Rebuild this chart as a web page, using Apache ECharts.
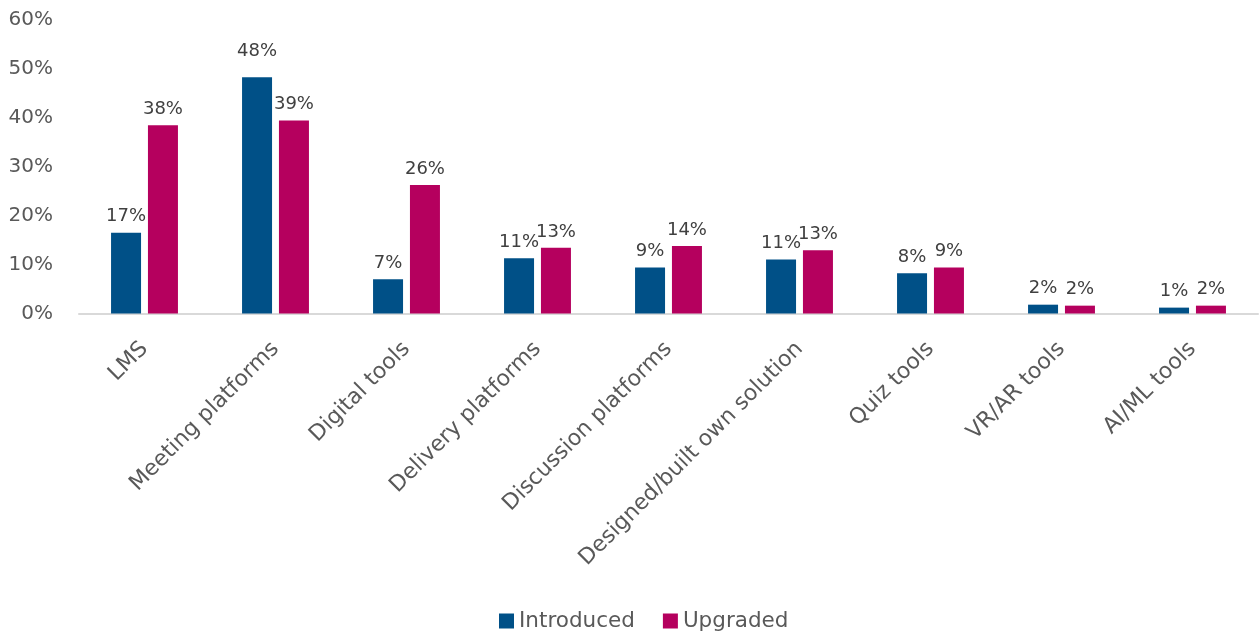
<!DOCTYPE html>
<html lang="en">
<head>
    <meta charset="UTF-8">
    <title>Tools introduced / upgraded</title>
    <script src="https://cdn.jsdelivr.net/npm/echarts@6/dist/echarts.min.js"></script>
    <style>
        html, body { margin: 0; padding: 0; background: #fff; }
        #chart { width: 1259px; height: 637px; }
    </style>
</head>
<body>
<div id="chart"></div>
<script type="text/javascript">
    // categories + values (percent)
    const categories = ['LMS', 'Meeting platforms', 'Digital tools', 'Delivery platforms',
        'Discussion platforms', 'Designed/built own solution', 'Quiz tools', 'VR/AR tools', 'AI/ML tools'];
    const introduced = [16.5, 48.2, 7.0, 11.3, 9.4, 11.0, 8.2, 1.8, 1.2];
    const upgraded = [38.4, 39.4, 26.2, 13.4, 13.8, 12.9, 9.4, 1.6, 1.6];
    const yTicks = [0, 10, 20, 30, 40, 50, 60];

    const font = '"DejaVu Sans", sans-serif';
    const chart = echarts.init(document.getElementById('chart'));

    const barLabel = {
        show: true,
        position: 'top',
        distance: 7,
        color: '#404040',
        fontFamily: font,
        fontSize: 18,
        formatter: p => Math.round(p.value) + '%'
    };

    // the tallest bar's label sits a bit higher in the original
    function toItems(arr) {
        const top = Math.max(...introduced, ...upgraded);
        return arr.map(v => v === top ? {value: v, label: {distance: 17}} : v);
    }

    chart.setOption({
        animation: false,
        legend: {
            left: 494,
            top: 605,
            itemWidth: 15,
            itemHeight: 15,
            itemGap: 28,
            icon: 'rect',
            textStyle: {color: '#595959', fontFamily: font, fontSize: 21.5},
            data: ['Introduced', 'Upgraded']
        },
        grid: {left: 79, top: 19.5, width: 1179, height: 294},
        xAxis: {
            type: 'category',
            data: categories,
            axisLine: {lineStyle: {color: '#d9d9d9', width: 2}},
            axisTick: {show: false},
            axisLabel: {
                rotate: 45,
                margin: 32,
                interval: 0,
                color: '#595959',
                fontFamily: font,
                fontSize: 22
            }
        },
        yAxis: {
            type: 'value',
            min: yTicks[0],
            max: yTicks[yTicks.length - 1],
            interval: 10,
            axisLine: {show: false},
            axisTick: {show: false},
            splitLine: {show: false},
            axisLabel: {
                margin: 26,
                color: '#595959',
                fontFamily: font,
                fontSize: 20,
                formatter: '{value}%'
            }
        },
        series: [{
            name: 'Introduced',
            type: 'bar',
            data: toItems(introduced),
            barWidth: 30,
            barGap: '23%',
            itemStyle: {color: '#005087'},
            label: barLabel
        }, {
            name: 'Upgraded',
            type: 'bar',
            data: toItems(upgraded),
            barWidth: 30,
            barGap: '23%',
            itemStyle: {color: '#b5005e'},
            label: barLabel
        }]
    });
</script>
</body>
</html>
